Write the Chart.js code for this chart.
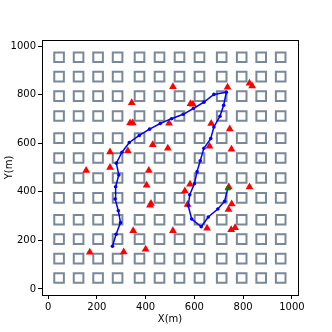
<!DOCTYPE html>
<html>
<head>
<meta charset="utf-8">
<script src="https://cdn.jsdelivr.net/npm/chart.js@4.4.1/dist/chart.umd.min.js"></script>
<style>
  body { margin: 0; background: #fff; }
  canvas { display: block; }
</style>
</head>
<body>
<canvas id="myChart" width="332" height="332"></canvas>
<script>
// building grid (centres, same for x and y)
const gridPos = [45, 125, 205, 285, 375, 457, 539, 621, 712, 794, 874, 954];

// UAV path
const pathX = [264, 279, 297, 288, 275, 277, 290, 280, 303, 333, 374, 416, 460, 506, 554, 596, 639, 680, 731,
  720, 705, 680, 667, 639, 624, 611, 600, 581, 575, 589, 628, 657, 696, 724, 737];
const pathY = [176, 225, 273, 322, 370, 421, 469, 518, 563, 603, 632, 658, 681, 701, 719, 743, 769, 801, 810,
  756, 711, 667, 619, 579, 528, 483, 433, 388, 342, 288, 256, 296, 329, 361, 414];

// ground users
const userX = [343, 336, 347, 254, 327, 429, 491, 156, 254, 413, 512, 826, 837, 736, 584, 594, 496, 669, 745,
  662, 752, 404, 418, 422, 349, 171, 310, 400, 582, 561, 572, 741, 826, 753, 740, 512, 652, 751, 767];
const userY = [767, 683, 683, 564, 568, 594, 579, 488, 500, 488, 833, 847, 836, 830, 763, 760, 682, 681, 659,
  588, 575, 427, 345, 352, 240, 151, 152, 163, 431, 403, 348, 420, 420, 350, 327, 240, 250, 244, 252];

const tickVals = [0, 200, 400, 600, 800, 1000];

const squares = [];
gridPos.forEach(gx => gridPos.forEach(gy => squares.push({ x: gx, y: gy })));
const path = pathX.map((x, i) => ({ x: x, y: pathY[i] }));
const users = userX.map((x, i) => ({ x: x, y: userY[i] }));
const last = path[path.length - 1];

const frame = {
  id: "frame",
  afterDatasetsDraw(chart) {
    const a = chart.chartArea;
    const c = chart.ctx;
    c.save();
    c.strokeStyle = "#000";
    c.lineWidth = 1;
    c.strokeRect(Math.round(a.left) + 0.5, Math.round(a.top) + 0.5,
      Math.round(a.right - a.left), Math.round(a.bottom - a.top));
    c.restore();
  }
};

const ctx = document.getElementById("myChart").getContext("2d");
const myChart = new Chart(ctx, {
  type: "scatter",
  data: {
    datasets: [
      {
        data: [last],
        pointStyle: "triangle",
        pointRadius: 3,
        backgroundColor: "green",
        borderColor: "green",
        order: 0,
      },
      {
        data: path,
        showLine: true,
        borderColor: "#0000ff",
        backgroundColor: "#0000ff",
        borderWidth: 1.5,
        pointRadius: 1.8,
        pointBorderWidth: 0,
        tension: 0,
        order: 1,
      },
      {
        data: users,
        pointStyle: "triangle",
        pointRadius: 4.5,
        backgroundColor: "#ff0000",
        borderColor: "#ff0000",
        borderWidth: 0,
        order: 2,
      },
      {
        data: squares,
        pointStyle: "rect",
        pointRadius: 6.8,
        backgroundColor: "rgba(0,0,0,0)",
        borderColor: "#7a8898",
        borderWidth: 2,
        order: 3,
      },
    ],
  },
  options: {
    responsive: false,
    animation: false,
    events: [],
    layout: { padding: { left: 3, right: 34, top: 40, bottom: 3 } },
    plugins: {
      legend: { display: false },
      tooltip: { enabled: false },
    },
    scales: {
      x: {
        min: -25,
        max: 1025,
        afterBuildTicks: s => { s.ticks = tickVals.map(v => ({ value: v })); },
        afterFit: s => { s.height = 34; },
        grid: { drawOnChartArea: false, drawTicks: true, tickLength: 4, color: "#000" },
        border: { display: true, color: "#000" },
        ticks: { color: "#000", font: { family: "DejaVu Sans", size: 10 }, padding: 2, maxRotation: 0,
          callback: v => String(v) },
        title: { display: true, text: "X(m)", color: "#000", font: { family: "DejaVu Sans", size: 10 }, padding: { top: 0 } },
      },
      y: {
        min: -25,
        max: 1025,
        afterBuildTicks: s => { s.ticks = tickVals.map(v => ({ value: v })); },
        afterFit: s => { s.width = 39; },
        grid: { drawOnChartArea: false, drawTicks: true, tickLength: 4, color: "#000" },
        border: { display: true, color: "#000" },
        ticks: { color: "#000", font: { family: "DejaVu Sans", size: 10 }, padding: 2,
          callback: v => String(v) },
        title: { display: true, text: "Y(m)", color: "#000", font: { family: "DejaVu Sans", size: 10 }, padding: 0 },
      },
    },
  },
  plugins: [frame],
});
</script>
</body>
</html>
